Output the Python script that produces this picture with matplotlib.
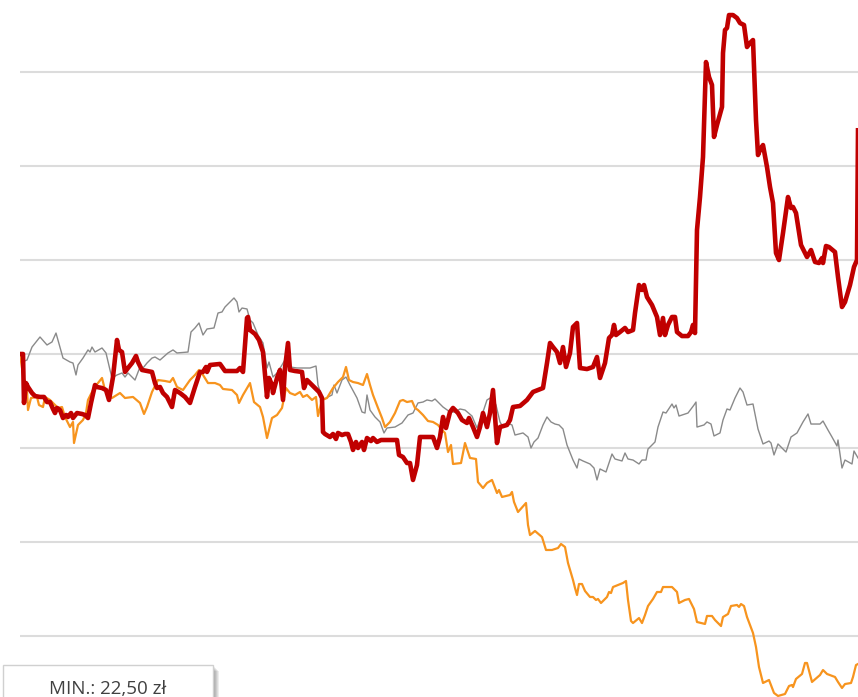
import matplotlib
matplotlib.use("Agg")
import matplotlib.pyplot as plt
from matplotlib.patches import Rectangle

# ---- data: % change from start, x = trading-day offset ----
red_day = [0, 3, 4, 6, 8, 12, 15, 20, 24, 27,
           30, 33, 35, 37, 40, 43, 46, 48, 51, 53,
           57, 62, 65, 68, 71, 75, 77, 82, 86, 89,
           93, 97, 99, 102, 105, 108, 112, 116, 118, 122,
           127, 132, 135, 137, 140, 143, 147, 152, 155, 160,
           165, 170, 175, 180, 183, 186, 187, 190, 200, 205,
           217, 220, 223, 227, 228, 230, 235, 239, 243, 247,
           249, 252, 253, 257, 260, 263, 265, 268, 270, 275,
           282, 284, 287, 290, 295, 299, 302, 303, 305, 310,
           313, 316, 318, 322, 325, 328, 331, 333, 336, 338,
           342, 344, 347, 351, 353, 357, 361, 377, 379, 383,
           387, 390, 393, 397, 400, 413, 417, 420, 423, 426,
           430, 433, 438, 442, 447, 449, 453, 457, 460, 463,
           467, 470, 473, 477, 480, 487, 490, 493, 500, 507,
           513, 518, 523, 527, 530, 533, 537, 540, 543, 546,
           550, 553, 557, 560, 567, 573, 577, 580, 585, 589,
           592, 594, 596, 600, 605, 608, 613, 615, 619, 622,
           624, 627, 632, 637, 640, 643, 645, 648, 652, 655,
           657, 662, 668, 671, 673, 675, 677, 680, 683, 686,
           689, 692, 694, 697, 702, 703, 705, 707, 709, 713,
           717, 720, 724, 727, 730, 733, 736, 738, 740, 743,
           747, 750, 753, 756, 759, 763, 768, 771, 773, 776,
           781, 787, 791, 795, 799, 802, 803, 806, 809, 815,
           818, 822, 825, 830, 834, 837, 838]
red_pct = [0.0, 0.0, -5.21, -3.09, -3.51, -4.15, -4.47, -4.57, -4.57, -5.11,
           -5.11, -5.85, -6.28, -5.74, -5.96, -6.81, -6.49, -6.70, -6.28, -6.81,
           -6.28, -6.38, -6.49, -6.81, -5.21, -3.30, -3.51, -3.62, -3.83, -4.89,
           -2.45, 1.49, 0.43, 0.21, -1.91, -1.49, -0.96, -0.21, -0.85, -1.70,
           -1.81, -1.91, -3.09, -3.62, -3.51, -4.15, -4.57, -5.64, -3.83, -4.15,
           -4.57, -5.21, -3.51, -1.91, -1.91, -1.38, -1.91, -1.17, -1.06, -1.81,
           -1.81, -1.49, -1.91, 3.83, 3.94, 2.55, 2.13, 1.49, 0.21, -4.57,
           -2.55, -3.30, -4.15, -2.55, -1.70, -4.89, -1.49, 1.17, -1.70, -1.81,
           -1.91, -3.62, -2.77, -3.09, -3.62, -4.04, -4.68, -8.30, -8.51, -8.83,
           -8.51, -9.04, -8.40, -8.62, -8.51, -8.51, -9.36, -10.21, -9.36, -10.0,
           -9.36, -10.21, -8.94, -9.26, -8.94, -9.36, -9.15, -9.15, -10.74, -10.96,
           -11.60, -11.60, -13.40, -11.81, -8.83, -8.83, -10.0, -8.83, -6.70, -7.87,
           -6.17, -5.74, -6.28, -7.02, -7.34, -6.81, -7.77, -8.83, -7.77, -6.28,
           -7.77, -6.28, -3.83, -9.47, -7.77, -7.55, -7.02, -5.64, -5.53, -4.89,
           -4.04, -3.83, -3.62, -0.96, 1.17, 0.74, 0.21, -0.96, 0.74, -1.38,
           0.11, 2.87, 3.30, -1.49, -1.60, -1.38, -0.32, -2.55, -0.96, 1.70,
           2.02, 3.09, 2.02, 2.34, 2.77, 2.34, 2.55, 4.36, 7.34, 6.81,
           7.34, 6.06, 5.21, 3.94, 2.02, 3.83, 2.02, 3.09, 3.94, 3.94,
           2.34, 1.91, 1.91, 2.34, 3.09, 2.23, 13.19, 16.70, 20.96, 31.06,
           29.47, 28.62, 23.09, 24.36, 26.28, 32.02, 34.47, 34.68, 36.06, 36.06,
           35.74, 35.21, 35.0, 32.66, 33.09, 33.40, 24.89, 21.17, 21.70, 22.23,
           19.89, 17.77, 16.06, 10.74, 10.0, 12.87, 16.70, 15.53, 15.64, 15.0,
           11.60, 10.32, 11.06, 9.79, 9.68, 10.21, 9.68, 11.49, 11.38, 10.85,
           8.19, 5.0, 5.53, 7.34, 9.26, 10.0, 23.8]

gray_day = [0, 2, 7, 12, 20, 27, 32, 36, 43, 50,
            53, 56, 58, 63, 68, 70, 72, 75, 82, 86,
            90, 92, 97, 102, 105, 108, 115, 120, 123, 127,
            132, 135, 140, 148, 153, 157, 168, 171, 175, 179,
            183, 187, 194, 198, 202, 205, 210, 214, 217, 219,
            222, 227, 230, 233, 238, 243, 247, 249, 253, 257,
            262, 266, 270, 277, 290, 296, 298, 303, 308, 312,
            314, 317, 322, 326, 330, 337, 342, 345, 347, 350,
            355, 360, 364, 367, 375, 382, 388, 393, 398, 403,
            407, 412, 415, 419, 423, 430, 435, 440, 445, 452,
            457, 462, 467, 472, 476, 480, 483, 487, 492, 495,
            503, 508, 511, 514, 518, 523, 527, 531, 535, 539,
            543, 547, 553, 557, 559, 563, 570, 574, 577, 580,
            586, 592, 595, 602, 605, 608, 613, 619, 622, 626,
            628, 635, 638, 643, 646, 652, 654, 656, 659, 668,
            674, 676, 677, 684, 687, 691, 694, 700, 703, 707,
            710, 715, 720, 723, 727, 733, 738, 743, 749, 751,
            754, 758, 766, 771, 777, 783, 788, 791, 800, 803,
            808, 812, 817, 818, 822, 825, 832, 834, 838]
gray_pct = [0.0, -0.85, -0.64, 0.74, 1.81, 0.96, 1.28, 2.23, -0.43, -0.85,
            -0.96, -2.23, -1.17, -0.43, 0.43, 0.21, 0.74, 0.21, 0.64, 0.11,
            -1.70, -2.55, -2.23, -2.02, -2.45, -2.02, -2.77, -1.38, -1.49, -0.96,
            -0.43, -0.32, -0.64, 0.11, 0.43, 0.11, 0.21, 2.34, 2.77, 3.30,
            2.02, 2.66, 2.77, 4.36, 4.47, 5.0, 5.53, 5.96, 5.53, 4.47,
            4.89, 4.79, 3.62, 3.30, 2.02, 1.17, -1.49, -0.85, -2.45, -2.02,
            -1.17, -0.43, -1.38, -1.49, -1.49, -1.28, -3.30, -4.89, -4.57, -4.36,
            -3.30, -4.15, -2.77, -2.45, -3.30, -4.68, -6.17, -6.28, -4.36, -5.96,
            -6.70, -7.23, -8.40, -7.87, -7.77, -7.34, -6.49, -6.28, -5.21, -5.11,
            -4.89, -5.0, -4.79, -5.21, -5.64, -6.17, -6.17, -5.85, -5.96, -6.60,
            -7.87, -6.49, -4.89, -4.57, -5.43, -7.23, -7.77, -7.34, -7.55, -8.62,
            -8.40, -8.83, -10.0, -9.36, -8.94, -7.55, -6.70, -7.23, -7.45, -7.55,
            -7.98, -9.68, -11.28, -12.13, -11.17, -11.38, -11.70, -12.13, -13.40, -12.23,
            -12.55, -10.64, -11.17, -11.38, -10.53, -11.17, -11.28, -11.70, -11.28, -11.28,
            -10.11, -9.36, -7.77, -6.17, -6.28, -5.32, -5.74, -5.43, -6.60, -6.28,
            -5.43, -5.11, -7.77, -7.55, -7.23, -7.45, -8.72, -8.40, -7.02, -5.85,
            -5.96, -4.68, -3.62, -4.04, -5.43, -5.32, -7.98, -9.57, -9.26, -9.47,
            -10.74, -9.57, -10.43, -8.83, -8.40, -7.23, -6.38, -7.45, -7.45, -7.13,
            -8.09, -8.83, -9.79, -9.15, -12.13, -11.28, -11.70, -10.32, -11.06]

orange_day = [0, 3, 7, 8, 11, 17, 19, 23, 25, 30,
              33, 38, 42, 45, 50, 53, 54, 58, 63, 66,
              68, 74, 78, 82, 85, 88, 92, 100, 105, 113,
              120, 124, 127, 132, 138, 145, 150, 153, 157, 163,
              170, 175, 179, 183, 188, 195, 200, 203, 212, 217,
              219, 223, 230, 234, 240, 243, 247, 252, 257, 262,
              266, 270, 275, 280, 283, 287, 292, 296, 298, 302,
              307, 313, 318, 323, 326, 329, 333, 338, 343, 347,
              350, 353, 358, 362, 365, 370, 375, 380, 383, 387,
              392, 395, 398, 403, 408, 413, 418, 422, 425, 428,
              431, 433, 441, 445, 450, 456, 458, 463, 467, 472,
              477, 479, 482, 490, 492, 494, 498, 506, 508, 510,
              515, 522, 526, 532, 538, 541, 545, 548, 553, 555,
              557, 559, 562, 565, 570, 573, 576, 578, 581, 587,
              589, 591, 593, 603, 606, 608, 611, 613, 619, 622,
              625, 628, 633, 637, 641, 643, 652, 655, 657, 659,
              665, 669, 674, 677, 685, 687, 692, 695, 701, 703,
              708, 711, 717, 719, 721, 724, 727, 733, 736, 739,
              743, 749, 754, 758, 765, 769, 772, 773, 776, 782,
              785, 787, 792, 800, 803, 807, 815, 818, 822, 825,
              831, 833, 836, 838]
orange_pct = [0.0, -2.23, -3.83, -5.96, -4.68, -4.57, -5.43, -5.64, -4.57, -4.89,
              -5.21, -5.74, -5.64, -6.70, -7.77, -7.23, -9.47, -7.55, -7.02, -6.28,
              -4.89, -3.62, -3.09, -2.55, -3.83, -4.36, -4.68, -4.15, -4.68, -4.57,
              -5.21, -6.38, -5.64, -4.04, -2.77, -2.87, -2.98, -2.55, -3.51, -3.83,
              -2.77, -2.23, -1.70, -2.23, -3.09, -3.09, -3.30, -3.72, -3.83, -4.36,
              -5.21, -4.36, -3.09, -5.11, -5.64, -6.70, -8.94, -6.81, -6.49, -5.74,
              -3.62, -4.15, -4.36, -4.04, -4.57, -4.36, -4.89, -4.57, -6.60, -4.89,
              -4.68, -3.62, -2.98, -2.45, -1.38, -2.77, -2.98, -3.09, -3.30, -2.13,
              -3.30, -4.36, -5.74, -6.81, -7.77, -7.23, -6.28, -5.0, -4.89, -5.11,
              -5.0, -5.74, -5.96, -6.49, -7.13, -7.23, -7.55, -8.09, -8.40, -10.43,
              -9.68, -11.70, -11.60, -9.47, -11.06, -11.17, -13.62, -14.26, -13.72, -13.40,
              -14.79, -14.47, -15.21, -15.0, -14.68, -15.74, -16.81, -15.85, -18.19, -19.26,
              -18.83, -19.47, -20.85, -20.85, -20.64, -20.21, -20.53, -22.23, -24.04, -24.89,
              -25.64, -24.47, -24.47, -25.21, -25.85, -25.85, -26.17, -26.06, -26.49, -25.85,
              -25.32, -25.43, -24.79, -24.36, -24.15, -26.17, -28.40, -28.62, -28.09, -28.62,
              -27.77, -26.81, -26.06, -25.32, -25.32, -24.79, -24.79, -25.11, -25.32, -26.49,
              -26.17, -26.06, -27.13, -28.51, -28.72, -27.87, -27.87, -28.30, -28.94, -27.98,
              -27.66, -26.81, -26.70, -26.91, -26.60, -26.81, -27.98, -29.68, -31.17, -33.30,
              -35.0, -34.68, -36.06, -36.38, -36.17, -35.32, -35.21, -35.43, -34.57, -34.04,
              -32.87, -32.87, -34.89, -34.15, -33.62, -34.04, -34.36, -34.89, -35.53, -35.11,
              -35.0, -34.36, -33.09, -32.98]

grid_levels = [-30, -20, -10, 0, 10, 20, 30]
min_label = "MIN.: 22,50 zł"

# ---- figure ----
W, H = 858, 697
fig = plt.figure(figsize=(W / 100, H / 100), dpi=100)
ax = fig.add_axes([20 / W, 0, 1 - 20 / W, 1])
ax.set_xlim(0, 838)
ax.set_ylim(-36.49, 37.66)
for s in ax.spines.values():
    s.set_visible(False)
ax.set_xticks([])
ax.set_yticks(grid_levels)
ax.tick_params(left=False, labelleft=False)
ax.yaxis.grid(True, color="#DCDCDC", linewidth=1.5)
ax.set_axisbelow(True)

ax.plot(gray_day, gray_pct, color="#8A8A8A", linewidth=1.0, zorder=3)
ax.plot(orange_day, orange_pct, color="#F7941E", linewidth=1.6, zorder=4)
ax.plot(red_day, red_pct, color="#C00000", linewidth=3.3, zorder=5,
        solid_joinstyle="round")

# ---- MIN box with soft shadow ----
bx, by_top, bw = 3 / W, 1 - 665 / H, 210 / W
bottom = -0.03
for i in range(6, 0, -1):
    fig.patches.append(Rectangle((bx + i / W, bottom), bw, by_top - bottom - i / H,
                                 transform=fig.transFigure, facecolor="#000000",
                                 edgecolor="none", alpha=0.07, zorder=8))
fig.patches.append(Rectangle((bx, bottom), bw, by_top - bottom,
                             transform=fig.transFigure, facecolor="white",
                             edgecolor="#D0D0D0", linewidth=1.0, zorder=9))
fig.text(108 / W, 1 - 689 / H, min_label, ha="center", va="center",
         fontsize=13.5, color="#404040", family=["Open Sans", "DejaVu Sans"], zorder=10)

fig.savefig("out.png", dpi=100)
